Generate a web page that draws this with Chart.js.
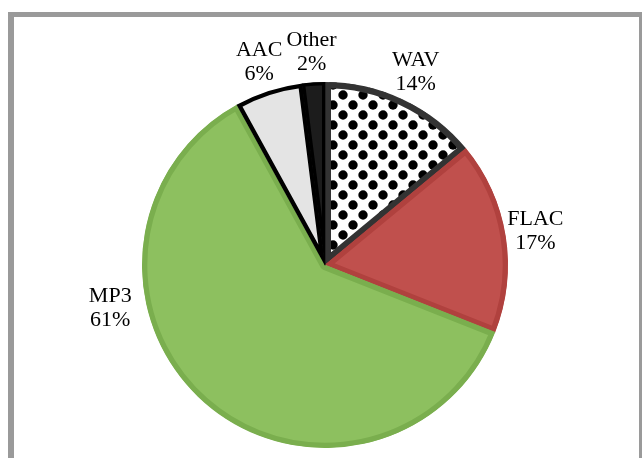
<!DOCTYPE html>
<html>
<head>
<meta charset="utf-8">
<script src="https://cdn.jsdelivr.net/npm/chart.js@4/dist/chart.umd.min.js"></script>
<style>
  html, body { margin: 0; padding: 0; background: #fff; overflow: hidden; }
  #frame {
    position: absolute; left: 8px; top: 12px; width: 625px; height: 470px;
    border: 6px solid #9a9a9a; border-top-width: 5px; background: #fff;
  }
  #wrap { position: absolute; left: 0; top: 0; width: 642px; height: 458px; }
</style>
</head>
<body>
<div id="frame"></div>
<div id="wrap"><canvas id="pieChart" width="642" height="458"></canvas></div>
<script>
var formats = ["WAV", "FLAC", "MP3", "AAC", "Other"];
var shares = [14, 17, 61, 6, 2];

function dotPattern() {
    var c = document.createElement("canvas");
    c.width = 20;
    c.height = 20;
    var g = c.getContext("2d");
    g.fillStyle = "#ffffff";
    g.fillRect(0, 0, 20, 20);
    g.fillStyle = "#000000";
    var dots = [[3, 15], [13, 5]];
    dots.forEach(function (d) {
        for (var ox = -20; ox <= 20; ox += 20) {
            for (var oy = -20; oy <= 20; oy += 20) {
                g.beginPath();
                g.arc(d[0] + ox, d[1] + oy, 4.7, 0, Math.PI * 2);
                g.fill();
            }
        }
    });
    return g.createPattern(c, "repeat");
}

// MP3 label sits left of the pie, not at its slice middle
var labelMoves = { 2: { angle: 168.7 * Math.PI / 180, gap: 36 } };

var pieLabels = {
    id: "pieLabels",
    afterDatasetsDraw: function (chart) {
        var ctx = chart.ctx;
        var meta = chart.getDatasetMeta(0);
        var data = chart.data.datasets[0].data;
        var total = data.reduce(function (a, b) { return a + b; }, 0);
        ctx.save();
        ctx.font = "22px 'Liberation Serif', 'Times New Roman', serif";
        ctx.fillStyle = "#000";
        ctx.textAlign = "center";
        ctx.textBaseline = "middle";
        meta.data.forEach(function (arc, i) {
            var mid = (arc.startAngle + arc.endAngle) / 2;
            var dist = arc.outerRadius + 30;
            if (labelMoves[i]) {
                mid = labelMoves[i].angle;
                dist = arc.outerRadius + labelMoves[i].gap;
            }
            var cx = arc.x + Math.cos(mid) * dist;
            var cy = arc.y + Math.sin(mid) * dist;
            var pct = Math.round(data[i] / total * 100) + "%";
            ctx.fillText(chart.data.labels[i], cx, cy - 12);
            ctx.fillText(pct, cx, cy + 12);
        });
        ctx.restore();
    }
};

var ctx = document.getElementById("pieChart").getContext("2d");
new Chart(ctx, {
    type: "pie",
    data: {
        labels: formats,
        datasets: [{
            data: shares,
            backgroundColor: [dotPattern(), "#c0504d", "#8dc05f", "#e4e4e4", "#1c1c1c"],
            borderColor: ["#333333", "#b0413e", "#7aae4e", "#000000", "#000000"],
            borderWidth: [6, 5, 5, 4, 3],
            borderAlign: "inner"
        }]
    },
    options: {
        responsive: false,
        devicePixelRatio: 1,
        animation: false,
        layout: {
            padding: { top: 82, bottom: 10, left: 100, right: 92 }
        },
        plugins: {
            legend: { display: false },
            tooltip: { enabled: false }
        }
    },
    plugins: [pieLabels]
});
</script>
</body>
</html>
